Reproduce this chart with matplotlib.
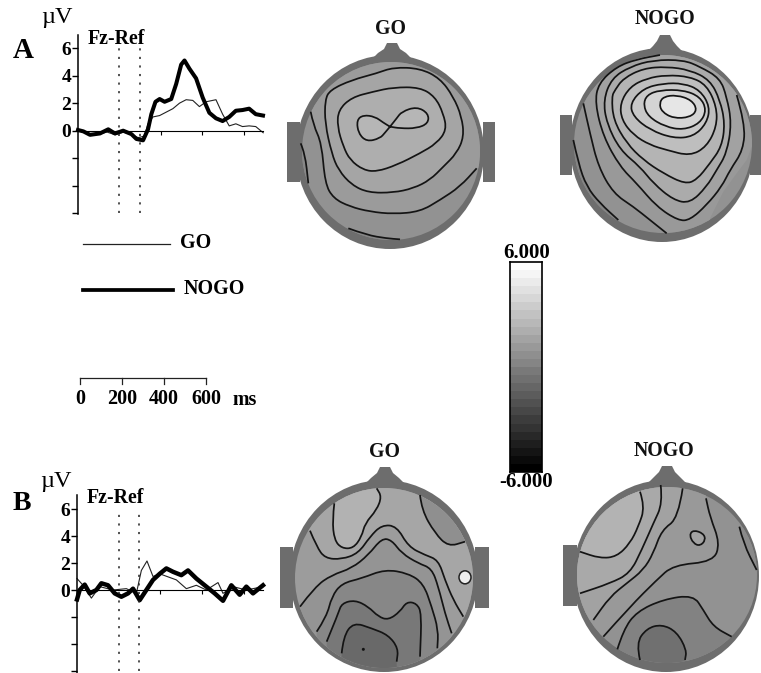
import matplotlib
matplotlib.use("Agg")
import matplotlib.pyplot as plt
import numpy as np
from matplotlib.patches import Ellipse, PathPatch, Polygon, Rectangle
from matplotlib.path import Path

plt.rcParams['font.family'] = ['Liberation Serif', 'DejaVu Serif']
plt.rcParams['font.weight'] = 'bold'

W, H = 761, 673

# ERP waveforms, time in ms, amplitude in microvolts
a_nogo_t = [0, 26, 58, 106, 146, 178, 218, 258, 282, 314, 338, 354, 374, 394, 418, 450, 474, 498, 514,
            538, 570, 602, 634, 666, 698, 730, 762, 794, 826, 858, 893]
a_nogo_v = [0.05, -0.05, -0.3, -0.2, 0.1, -0.2, 0, -0.25, -0.6, -0.7, 0.1, 1.2, 2.1, 2.3, 2.1, 2.3, 3.4, 4.8, 5.1,
            4.5, 3.8, 2.4, 1.3, 0.9, 0.7, 1, 1.45, 1.5, 1.6, 1.2, 1.1]
a_go_t = [0, 30, 60, 100, 140, 180, 220, 260, 290, 320, 338, 362, 394, 426, 458, 490, 522, 554, 586,
          618, 666, 698, 730, 762, 794, 826, 858, 894]
a_go_v = [0, -0.1, -0.25, -0.25, -0.1, -0.3, -0.1, -0.3, -0.5, -0.4, 0.5, 1, 1.1, 1.35, 1.6, 2, 2.25, 2.2, 1.75,
          2.1, 2.25, 1.2, 0.35, 0.5, 0.3, 0.35, 0.3, -0.15]
b_nogo_t = [0, 13, 37, 61, 93, 117, 149, 181, 213, 245, 269, 301, 333, 365, 397, 429, 461, 501, 533,
            573, 621, 661, 701, 741, 781, 813, 845, 893]
b_nogo_v = [-0.7, 0, 0.4, -0.25, 0, 0.5, 0.35, -0.25, -0.5, -0.25, 0.1, -0.75, 0, 0.75, 1.2, 1.6, 1.35, 1.1, 1.45,
            0.85, 0.25, -0.25, -0.8, 0.35, -0.35, 0.25, -0.25, 0.35]
b_go_t = [0, 29, 69, 109, 173, 237, 285, 309, 336, 365, 397, 477, 525, 573, 621, 677, 701, 749, 813, 893]
b_go_v = [0.85, 0.35, -0.6, 0.25, 0, 0.1, -0.25, 1.45, 2.15, 1, 1.2, 0.75, 0.1, 0.35, 0, 0.55, -0.25, 0.25, 0, 0.25]

y_ticks = [6, 4, 2, 0, -2, -4, -6]
y_labels = ['6', '4', '2', '0', '', '', '']
x_ticks = [400, 600, 800]
window_ms = [200, 300]
scale_labels = ['0', '200', '400', '600']
scale_ms = [0, 200, 400, 600]
colorbar_range = [-6.0, 6.0]

# contour lines of the maps, read off 3x crops of the picture
# each entry: line points, points that close the band outside the head (None = closed loop), band grey
go_a_bands = [
    ([(205, 655), (260, 675), (320, 685), (360, 688)], [(360, 730), (205, 730)], '#858585'),
    ([(62, 400), (75, 430), (85, 520)], [(85, 600), (0, 600), (0, 400)], '#878787'),
    ([(92, 305), (100, 345), (125, 400), (135, 520), (160, 565), (210, 590), (270, 605), (340, 612), (420, 605),
      (480, 570), (540, 530), (590, 475)], [(640, 475), (640, 100), (92, 100)], '#9b9b9b'),
    ([(135, 270), (150, 240), (215, 210), (290, 190), (340, 172), (420, 175), (480, 205), (520, 260), (545, 320),
      (552, 380), (530, 430), (490, 470), (450, 510), (400, 535), (340, 548), (265, 548), (215, 525), (175, 480),
      (155, 430), (135, 340)], None, '#a5a5a5'),
    ([(175, 300), (215, 262), (280, 245), (340, 232), (420, 232), (465, 260), (490, 310), (500, 360), (470, 400),
      (420, 430), (350, 465), (290, 485), (250, 480), (210, 450), (190, 410), (172, 350)], None, '#aeaeae'),
    ([(230, 330), (250, 315), (285, 320), (310, 338), (330, 350), (330, 350), (350, 325), (365, 305), (410, 290),
      (445, 310), (445, 340), (410, 355), (360, 355), (330, 350), (330, 350), (315, 368), (300, 385), (260, 395),
      (235, 370)], None, '#b6b6b6'),
]
nogo_a_bands = [
    ([(70, 390), (85, 460), (110, 530), (150, 580), (205, 630)], [(205, 720), (0, 720), (0, 390)], '#848484'),
    ([(350, 670), (300, 630), (250, 590), (190, 550), (145, 470), (120, 370), (100, 280)],
     [(100, 100), (633, 100), (633, 410), (605, 410), (590, 450), (560, 490), (520, 545), (480, 625), (480, 720),
      (350, 720)], '#999999'),
    ([(560, 255), (585, 340), (580, 420), (540, 480), (515, 530), (470, 585), (420, 630), (385, 632), (320, 590),
      (260, 520), (210, 470), (160, 380), (135, 280), (145, 220), (200, 170), (260, 148), (330, 135)],
     [(330, 100), (633, 100), (633, 255)], '#a2a2a2'),
    ([(510, 205), (530, 260), (545, 340), (530, 430), (500, 480), (470, 530), (420, 580), (370, 570), (310, 520),
      (270, 470), (210, 420), (170, 340), (160, 270), (185, 205), (240, 170), (310, 150), (400, 150), (450, 170)],
     None, '#ababab'),
    ([(185, 260), (190, 330), (230, 400), (280, 450), (340, 490), (405, 522), (440, 510), (480, 460), (515, 410),
      (525, 340), (510, 270), (480, 210), (420, 180), (350, 170), (280, 175), (220, 205), (195, 240)], None, '#b4b4b4'),
    ([(210, 280), (215, 330), (250, 375), (300, 405), (350, 420), (420, 438), (470, 410), (500, 350), (500, 290),
      (470, 225), (420, 200), (350, 195), (290, 205), (240, 230)], None, '#bebebe'),
    ([(240, 280), (250, 320), (300, 360), (370, 385), (430, 380), (470, 340), (480, 290), (450, 240), (400, 220),
      (340, 220), (280, 235)], None, '#c8c8c8'),
    ([(280, 285), (295, 320), (345, 350), (400, 360), (450, 340), (470, 300), (450, 260), (400, 240), (330, 240),
      (290, 255)], None, '#d4d4d4'),
    ([(328, 280), (335, 305), (370, 325), (420, 322), (442, 300), (425, 270), (380, 255), (340, 260)], None, '#e6e6e6'),
]
go_b_bands = [
    ([(105, 272), (125, 320), (150, 355), (200, 358), (250, 340), (285, 290), (320, 255), (365, 258),
      (400, 320), (450, 345), (490, 360), (510, 420), (535, 480), (565, 530)],
     [(640, 530), (640, 100), (30, 100), (30, 272)], '#a6a6a6'),
    ([(435, 165), (440, 210), (480, 280), (520, 320), (570, 305)], [(640, 305), (640, 100), (435, 100)], '#8f8f8f'),
    ([(178, 190), (172, 240), (178, 300), (200, 325), (235, 325), (260, 290), (270, 250), (305, 210), (320, 170),
      (305, 145)], [(305, 100), (178, 100)], '#b2b2b2'),
    ([(75, 500), (120, 440), (170, 405), (230, 385), (280, 345), (320, 295), (350, 300), (380, 340), (430, 370),
      (470, 385), (490, 440), (510, 520), (530, 580)], [(530, 720), (75, 720)], '#949494'),
    ([(125, 575), (155, 530), (170, 470), (200, 430), (260, 415), (330, 388), (400, 400), (445, 430), (470, 500),
      (490, 570), (487, 625)], [(487, 720), (125, 720)], '#878787'),
    ([(155, 605), (190, 520), (200, 490), (240, 480), (280, 500), (310, 530), (340, 540), (375, 515), (395, 485),
      (425, 490), (440, 520), (435, 650)], [(435, 720), (155, 720)], '#787878'),
    ([(200, 640), (205, 590), (235, 547), (290, 565), (340, 585), (370, 625), (365, 665)], [(365, 720), (200, 720)],
     '#696969'),
]
nogo_b_bands = [
    ([(220, 590), (300, 500), (380, 420), (430, 375), (550, 365), (570, 310), (540, 230), (528, 175)],
     [(528, 100), (100, 100), (100, 590)], '#999999'),
    ([(458, 145), (445, 235), (395, 270), (370, 340), (340, 390), (290, 430), (240, 470), (190, 540)],
     [(100, 540), (100, 100), (458, 100)], '#a2a2a2'),
    ([(392, 135), (398, 190), (370, 250), (335, 330), (300, 400), (240, 430), (150, 460)],
     [(100, 460), (100, 100), (392, 100)], '#a9a9a9'),
    ([(330, 155), (345, 200), (325, 260), (300, 310), (260, 350), (210, 355), (150, 335)],
     [(100, 335), (100, 100), (330, 100)], '#b3b3b3'),
    ([(628, 260), (640, 310), (680, 390)], [(720, 390), (720, 260)], '#8a8a8a'),
    ([(478, 285), (490, 270), (520, 280), (527, 300), (510, 318), (490, 310)], None, '#a2a2a2'),
    ([(262, 628), (280, 570), (320, 515), (400, 478), (490, 465), (520, 510), (550, 560), (605, 590)],
     [(720, 590), (720, 720), (262, 720)], '#828282'),
    ([(330, 660), (318, 610), (350, 565), (395, 553), (440, 575), (470, 630), (465, 660)], [(465, 720), (330, 720)],
     '#707070'),
]


def crop_to_px(pts, origin):
    return [(origin[0] + x / 3, origin[1] + y / 3) for x, y in pts]


def smooth(pts, closed=False):
    # quadratic curve through the midpoints of the read points
    p = np.array(pts, dtype=float)
    if closed:
        start = (p[-1] + p[0]) / 2
        verts, codes = [start], [Path.MOVETO]
        for i in range(len(p)):
            verts += [p[i], (p[i] + p[(i + 1) % len(p)]) / 2]
            codes += [Path.CURVE3, Path.CURVE3]
        return verts, codes
    verts, codes = [p[0]], [Path.MOVETO]
    for i in range(1, len(p) - 1):
        verts += [p[i], (p[i] + p[i + 1]) / 2]
        codes += [Path.CURVE3, Path.CURVE3]
    verts.append(p[-1])
    codes.append(Path.LINETO)
    return verts, codes


def draw_head(ax, title, title_xy, center, radii, inner_center, inner_radii, ears, nose, base, bands, origin):
    ring = '#6d6d6d'
    for ex0, ex1, ey0, ey1 in ears:
        ax.add_patch(Rectangle((ex0, ey0), ex1 - ex0, ey1 - ey0, fc=ring, ec='none', zorder=2))
    ax.add_patch(Ellipse(center, radii[0] * 2, radii[1] * 2, fc=ring, ec='none', zorder=2))
    nx0, nx1, ntop, nbase = nose
    nm = (nx0 + nx1) / 2
    ax.add_patch(Polygon([(nx0 - 3, nbase), (nx0 + 2, nbase - 5), (nm - 8, ntop + 6), (nm - 5, ntop), (nm + 5, ntop),
                          (nm + 8, ntop + 6), (nx1 - 2, nbase - 5), (nx1 + 3, nbase)],
                         fc=ring, ec='none', zorder=2))
    disk = Ellipse(inner_center, inner_radii[0] * 2, inner_radii[1] * 2, fc=base, ec='none', zorder=3)
    ax.add_patch(disk)
    for pts, close, grey in bands:
        verts, codes = smooth(crop_to_px(pts, origin), closed=close is None)
        if close is not None:
            for c in crop_to_px(close, origin):
                verts.append(c)
                codes.append(Path.LINETO)
        verts.append(verts[0])
        codes.append(Path.CLOSEPOLY)
        patch = PathPatch(Path(verts, codes), fc=grey, ec='none', zorder=4)
        ax.add_patch(patch)
        patch.set_clip_path(disk)
    for pts, close, grey in bands:
        verts, codes = smooth(crop_to_px(pts, origin), closed=close is None)
        ax.add_patch(PathPatch(Path(verts, codes), fc='none', ec='#141414', lw=1.25, zorder=6))
    ax.text(title_xy[0], title_xy[1], title, fontsize=14.3, ha='center', va='center', color='#111111', zorder=8)


def erp_axes(fig, left, right, y_top, y_bottom, ylim, nogo, go, thick):
    ax = fig.add_axes([left / W, 1 - y_bottom / H, (right - left) / W, (y_bottom - y_top) / H])
    ax.patch.set_alpha(0)
    ax.set_xlim(0, 893)
    ax.set_ylim(*ylim)
    ax.plot(go[0], go[1], color='#222222', lw=0.8, clip_on=False)
    ax.plot(nogo[0], nogo[1], color='black', lw=thick, solid_joinstyle='round', clip_on=False)
    ax.vlines(window_ms, -6, 6, colors='#222222', linestyles=[(0, (1.4, 4.2))], lw=1.1)
    ax.spines['top'].set_visible(False)
    ax.spines['right'].set_visible(False)
    ax.spines['bottom'].set_position('zero')
    ax.spines['left'].set_linewidth(1.1)
    ax.spines['bottom'].set_linewidth(0.8)
    ax.set_xticks(x_ticks)
    ax.set_xticklabels([])
    ax.tick_params(axis='x', length=3, width=0.8, direction='out')
    ax.set_yticks(y_ticks)
    ax.set_yticklabels(y_labels, fontsize=14, fontweight='bold')
    ax.tick_params(axis='y', length=4.5, width=1.0, pad=0.5)
    return ax


fig = plt.figure(figsize=(W / 100, H / 100), dpi=100)
page = fig.add_axes([0, 0, 1, 1])
page.set_xlim(0, W)
page.set_ylim(H, 0)
page.axis('off')

erp_axes(fig, 78, 263, 35, 214, (-6.05, 6.95), (a_nogo_t, a_nogo_v), (a_go_t, a_go_v), 2.9)
erp_axes(fig, 77, 263, 495, 673, (-6.15, 7.04), (b_nogo_t, b_nogo_v), (b_go_t, b_go_v), 3.2)

page.text(23, 50, 'A', fontsize=21, ha='center', va='center')
page.text(22, 504, 'B', fontsize=20, ha='center', va='center')
page.text(57, 18, '\u00b5V', fontsize=17.5, fontweight='normal', ha='center', va='center')
page.text(56, 481, '\u00b5V', fontsize=17.5, fontweight='normal', ha='center', va='center')
page.text(116, 39, 'Fz-Ref', fontsize=14.3, ha='center', va='center')
page.text(115, 498, 'Fz-Ref', fontsize=14.3, ha='center', va='center')

# legend
page.plot([83, 170], [244, 244], color='#222222', lw=0.9)
page.plot([83, 173], [290, 290], color='black', lw=2.7)
page.text(180, 243, 'GO', fontsize=14.4, ha='left', va='center')
page.text(184, 289, 'NOGO', fontsize=14.4, ha='left', va='center')

# time scale, 200 ms = 42 px as on the waveform axes
scale_x0 = 80
scale_px = [scale_x0 + m * 0.21 for m in scale_ms]
page.plot([scale_px[0], scale_px[-1]], [378, 378], color='#222222', lw=0.9)
for sx, lab in zip(scale_px, scale_labels):
    page.plot([sx, sx], [378, 384], color='#222222', lw=0.9)
    page.text(sx, 399, lab, fontsize=14.5, ha='center', va='center')
page.text(245, 400, 'ms', fontsize=14.4, ha='center', va='center')

# maps
draw_head(page, 'GO', (390, 29), (390, 152), (94, 97), (391, 151), (89, 89),
          [(287, 300, 122, 182), (483, 495, 122, 182)], (376, 408, 43, 58), '#929292', go_a_bands, (280, 10))
draw_head(page, 'NOGO', (665, 19), (662, 145), (92, 97), (663, 144), (89, 89),
          [(560, 572, 115, 175), (750, 761, 115, 175)], (651, 679, 35, 51), '#929292', nogo_a_bands, (550, 10))
draw_head(page, 'GO', (385, 452), (384, 576), (94, 96), (384, 578), (89, 90),
          [(280, 293, 547, 608), (475, 489, 547, 608)], (369, 401, 467, 483), '#9c9c9c', go_b_bands, (275, 440))
draw_head(page, 'NOGO', (664, 451), (666, 576), (93, 96), (667, 575), (90, 88),
          [(563, 577, 545, 606)], (651, 683, 466, 483), '#929292', nogo_b_bands, (530, 440))

# single spots of the maps
page.add_patch(Ellipse((275 + 570 / 3, 440 + 412 / 3), 12, 13, fc='#eeeeee', ec='#222222', lw=1.1, zorder=7))
page.add_patch(Ellipse((275 + 265 / 3, 440 + 628 / 3), 3, 3, fc='#111111', ec='none', zorder=7))

# colour bar
cb = fig.add_axes([509.5 / W, 1 - 472 / H, 32 / W, 210 / H])
levels = np.linspace(colorbar_range[1], colorbar_range[0], 26).reshape(-1, 1)
cb.imshow(levels, cmap='gray', vmin=colorbar_range[0], vmax=colorbar_range[1], aspect='auto', interpolation='nearest')
cb.set_xticks([])
cb.set_yticks([])
for s in cb.spines.values():
    s.set_linewidth(1.2)
page.text(527, 253, '6.000', fontsize=15, ha='center', va='center')
page.text(526, 482, '-6.000', fontsize=15, ha='center', va='center')

fig.savefig('out.png', dpi=100, facecolor='white')
